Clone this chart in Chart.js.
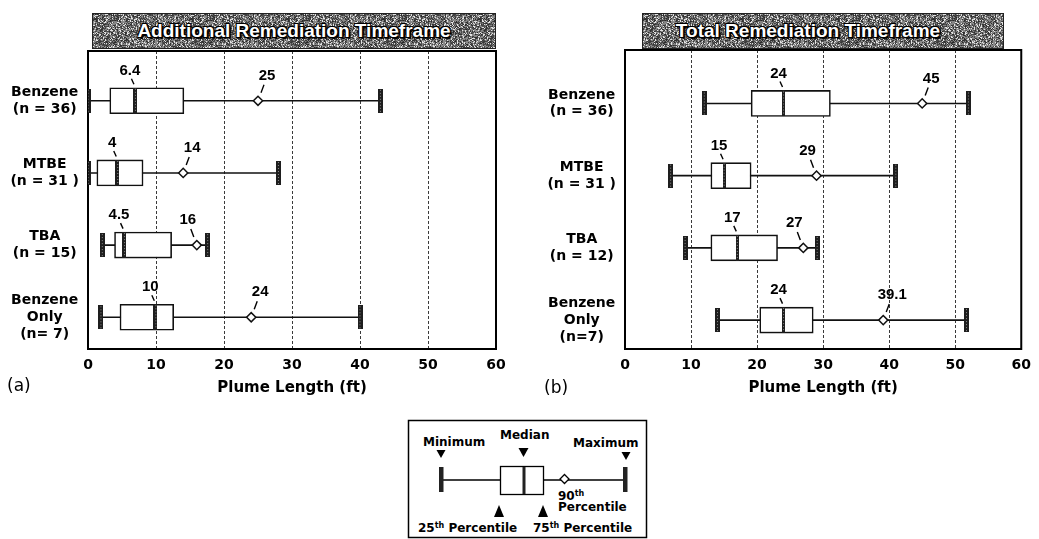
<!DOCTYPE html>
<html><head><meta charset="utf-8">
<script src="https://cdn.jsdelivr.net/npm/chart.js@4"></script>
<style>
html,body{margin:0;padding:0;background:#fff;width:1039px;height:539px;overflow:hidden;position:relative}
canvas{position:absolute}
.banner{position:absolute;height:36px;border:1px solid #222;box-sizing:border-box;color:#fff;
 font:bold 19px 'Liberation Sans',Arial,sans-serif;line-height:34px;text-align:center;white-space:nowrap;
 text-shadow:1px 1px 0 #000,-1px -1px 0 #000,1px -1px 0 #000,-1px 1px 0 #000,2px 2px 1px #000;background-color:#777}
.pl{position:absolute;font:17px 'DejaVu Sans',sans-serif;color:#000}
#key text{font-family:'DejaVu Sans',sans-serif;font-weight:bold;font-size:12px;fill:#000}
</style></head><body>
<canvas id="cA" width="520" height="400" style="left:0;top:0"></canvas>
<canvas id="cB" width="509" height="400" style="left:530px;top:0"></canvas>
<div class="banner" style="left:92px;top:13px;width:404px">Additional Remediation Timeframe</div>
<div class="banner" style="left:642px;top:13px;width:362px;padding-right:30px">Total Remediation Timeframe</div>
<div class="pl" style="left:7px;top:375px">(a)</div>
<div class="pl" style="left:544px;top:377px">(b)</div>
<svg id="key" width="1039" height="539" style="position:absolute;left:0;top:0">
 <rect x="408.5" y="420.5" width="238" height="117" fill="#fff" stroke="#000" stroke-width="1.5"/>
 <text x="423" y="446">Minimum</text>
 <text x="500" y="439">Median</text>
 <text x="573" y="447">Maximum</text>
 <path d="M436.5,450 L445.5,450 L441,458 Z" fill="#000"/>
 <path d="M518.5,448 L528.5,448 L523.5,457 Z" fill="#000"/>
 <path d="M621.5,452 L630.5,452 L626,460 Z" fill="#000"/>
 <line x1="441" y1="480" x2="625" y2="480" stroke="#000" stroke-width="1.3"/>
 <rect x="500.5" y="466.5" width="43" height="28" fill="#fff" stroke="#000" stroke-width="1.3"/>
 <rect x="522.5" y="467" width="3" height="27" fill="#222"/>
 <rect x="439" y="467" width="4.5" height="25" fill="#222"/>
 <rect x="623" y="467" width="4.5" height="25" fill="#222"/>
 <path d="M564.5,474.5 L569,479 L564.5,483.5 L560,479 Z" fill="#fff" stroke="#000" stroke-width="1.3"/>
 <text x="558" y="500">90<tspan font-size="8" dy="-4">th</tspan></text>
 <text x="558" y="511">Percentile</text>
 <path d="M494,517 L504,517 L499,505 Z" fill="#000"/>
 <path d="M538,517 L548,517 L543,505 Z" fill="#000"/>
 <text x="418" y="532">25<tspan font-size="8" dy="-4">th</tspan><tspan dy="4"> Percentile</tspan></text>
 <text x="533" y="532">75<tspan font-size="8" dy="-4">th</tspan><tspan dy="4"> Percentile</tspan></text>
</svg>
<script>
// ---------- data: (a) Additional Remediation Timeframe ----------
const catsA = [["Benzene","(n = 36)"],["MTBE","(n = 31 )"],["TBA","(n = 15)"],["Benzene","Only","(n= 7)"]];
const minA = [0, 0, 2.1, 1.9];
const q1A = [3.2, 1.3, 3.9, 4.7];
const medA = [6.9, 4.3, 5.3, 9.9];
const medLabelA = ["6.4", "4", "4.5", "10"];
const q3A = [14.1, 8.1, 12.3, 12.6];
const p90A = [25, 14, 16, 24];
const maxA = [43, 28, 17.6, 40];
const sideA = [1, 1, -1, 1];

// ---------- data: (b) Total Remediation Timeframe ----------
const catsB = [["Benzene","(n = 36)"],["MTBE","(n = 31 )"],["TBA","(n = 12)"],["Benzene","Only","(n=7)"]];
const minB = [12, 6.9, 9.1, 14];
const q1B = [19.1, 13, 13, 20.4];
const medB = [24, 15, 17, 24];
const medLabelB = ["24", "15", "17", "24"];
const q3B = [31.1, 19.1, 23.1, 28.5];
const p90B = [45, 29, 27, 39.1];
const maxB = [52, 41, 29.1, 51.7];
const sideB = [1, -1, -1, 1];

const xTicks = [0, 10, 20, 30, 40, 50, 60];

// ---------- banner texture (deterministic) ----------
function hash(i, j) {
  let h = Math.imul(i, 374761393) + Math.imul(j, 668265263) | 0;
  h = Math.imul(h ^ (h >>> 13), 1274126177);
  h = h ^ (h >>> 16);
  return (h >>> 0) / 4294967296;
}
(function () {
  const c = document.createElement('canvas'); c.width = 96; c.height = 48;
  const g = c.getContext('2d'); const im = g.createImageData(96, 48);
  for (let y = 0; y < 48; y++) for (let x = 0; x < 96; x++) {
    const r = hash(x, y);
    const v = r < 0.45 ? 40 + r * 110 : (r < 0.85 ? 110 + r * 40 : 180 + r * 50);
    const k = (y * 96 + x) * 4;
    im.data[k] = im.data[k + 1] = im.data[k + 2] = Math.min(255, v); im.data[k + 3] = 255;
  }
  g.putImageData(im, 0, 0);
  const url = c.toDataURL();
  document.querySelectorAll('.banner').forEach(b => b.style.backgroundImage = 'url(' + url + ')');
})();

function hatchImg(w, h) {
  const c = document.createElement('canvas'); c.width = w; c.height = h;
  const g = c.getContext('2d');
  g.fillStyle = '#1e1e1e'; g.fillRect(0, 0, w, h);
  g.fillStyle = '#8c8c8c';
  for (let y = 1; y < h - 1; y += 3) g.fillRect(Math.floor(w / 2), y, 1, 1);
  return c;
}

function makeChart(id, d) {
  const pos = d.cats.map((c, i) => i + 1);
  const capImg = hatchImg(5, 24);
  const medImg = hatchImg(d.medW, 26);
  const datasets = [];
  pos.forEach((p, i) => datasets.push({
    type: 'line', data: [{x: d.min[i], y: p}, {x: d.max[i], y: p}],
    borderColor: '#111', borderWidth: 1.6, pointRadius: 0, order: 10
  }));
  datasets.push({
    type: 'bar', indexAxis: 'y', data: pos.map((p, i) => ({y: p, x: [d.q1[i], d.q3[i]]})),
    backgroundColor: '#fff', borderColor: '#111', borderWidth: 1.6, borderSkipped: false,
    barThickness: 26, order: 8
  });
  datasets.push({
    type: 'scatter', data: pos.map((p, i) => ({x: d.med[i], y: p})),
    pointStyle: medImg, pointRadius: 12, order: 6
  });
  datasets.push({
    type: 'scatter', data: pos.map((p, i) => ({x: d.min[i], y: p})).concat(pos.map((p, i) => ({x: d.max[i], y: p}))),
    pointStyle: capImg, pointRadius: 12, order: 5
  });
  datasets.push({
    type: 'scatter', data: pos.map((p, i) => ({x: d.p90[i], y: p})),
    pointStyle: 'rectRot', pointRadius: 4.6, pointBackgroundColor: '#fff',
    pointBorderColor: '#111', pointBorderWidth: 1.5, order: 4
  });

  const annot = {
    id: 'annot',
    afterDatasetsDraw(chart) {
      const ctx = chart.ctx, xs = chart.scales.x, ys = chart.scales.y;
      ctx.save();
      ctx.fillStyle = '#000'; ctx.strokeStyle = '#000'; ctx.lineWidth = 1.4;
      ctx.font = "bold 15px 'Liberation Sans', Arial, sans-serif";
      ctx.textAlign = 'center'; ctx.textBaseline = 'middle';
      pos.forEach((p, i) => {
        const yc = ys.getPixelForValue(p), top = yc - 13;
        const xm = xs.getPixelForValue(d.med[i]);
        ctx.fillText(d.medLabel[i], xm - 5, top - 17);
        ctx.beginPath(); ctx.moveTo(xm - 3.5, top - 9); ctx.lineTo(xm - 1, top - 3.5); ctx.stroke();
        const x9 = xs.getPixelForValue(d.p90[i]), s = d.side[i];
        ctx.fillText(String(d.p90[i]), x9 + s * 9, yc - 25);
        ctx.beginPath(); ctx.moveTo(x9 + s * 6, yc - 16); ctx.lineTo(x9 + s * 3, yc - 8); ctx.stroke();
      });
      ctx.restore();
    },
    afterDraw(chart) {
      const a = chart.chartArea, ctx = chart.ctx;
      ctx.save(); ctx.strokeStyle = '#000'; ctx.lineWidth = 2;
      ctx.beginPath(); ctx.moveTo(a.left - 1, a.top); ctx.lineTo(a.right, a.top); ctx.lineTo(a.right, a.bottom + 1); ctx.stroke();
      ctx.restore();
    }
  };

  return new Chart(document.getElementById(id), {
    type: 'scatter',
    data: {datasets},
    plugins: [annot],
    options: {
      responsive: false, animation: false, devicePixelRatio: 1,
      layout: {padding: {top: d.padTop, right: d.padRight, left: 0, bottom: 0}},
      plugins: {legend: {display: false}, tooltip: {enabled: false}, title: {display: false}},
      scales: {
        x: {
          type: 'linear', min: 0, max: 60, offset: false, beginAtZero: false,
          afterBuildTicks: s => { s.ticks = xTicks.map(v => ({value: v})); },
          afterFit: s => { s.height = 51; },
          grid: {drawTicks: false, lineWidth: 1, offset: false,
                 color: c => (c.tick && (c.tick.value === 0 || c.tick.value === 60)) ? 'rgba(0,0,0,0)' : '#3a3a3a'},
          border: {display: true, color: '#000', width: 2, dash: [3, 2]},
          ticks: {padding: 8, color: '#000', font: {family: "'DejaVu Sans', sans-serif", weight: 'bold', size: 14}},
          title: {display: true, text: 'Plume Length (ft)', color: '#000', padding: {top: 0, bottom: 3},
                  font: {family: "'DejaVu Sans', sans-serif", weight: 'bold', size: 15}}
        },
        y: {
          type: 'linear', reverse: true, min: d.yMin, max: d.yMax, offset: false,
          afterBuildTicks: s => { s.ticks = pos.map(v => ({value: v})); },
          afterFit: s => { s.width = d.yW; },
          grid: {display: false, drawTicks: false, offset: false},
          border: {display: true, color: '#000', width: 2},
          ticks: {autoSkip: false, crossAlign: 'center', padding: 9, color: '#000',
                  callback: v => d.cats[v - 1],
                  font: {family: "'DejaVu Sans', sans-serif", weight: 'bold', size: 14, lineHeight: 1.2}}
        }
      }
    }
  });
}

makeChart('cA', {cats: catsA, min: minA, q1: q1A, med: medA, medLabel: medLabelA, q3: q3A, p90: p90A, max: maxA,
  side: sideA, medW: 4, padTop: 51, padRight: 24, yW: 88, yMin: 0.31, yMax: 4.44});
makeChart('cB', {cats: catsB, min: minB, q1: q1B, med: medB, medLabel: medLabelB, q3: q3B, p90: p90B, max: maxB,
  side: sideB, medW: 3, padTop: 50, padRight: 10, yW: 95, yMin: 0.26, yMax: 4.40});
</script>
</body></html>
